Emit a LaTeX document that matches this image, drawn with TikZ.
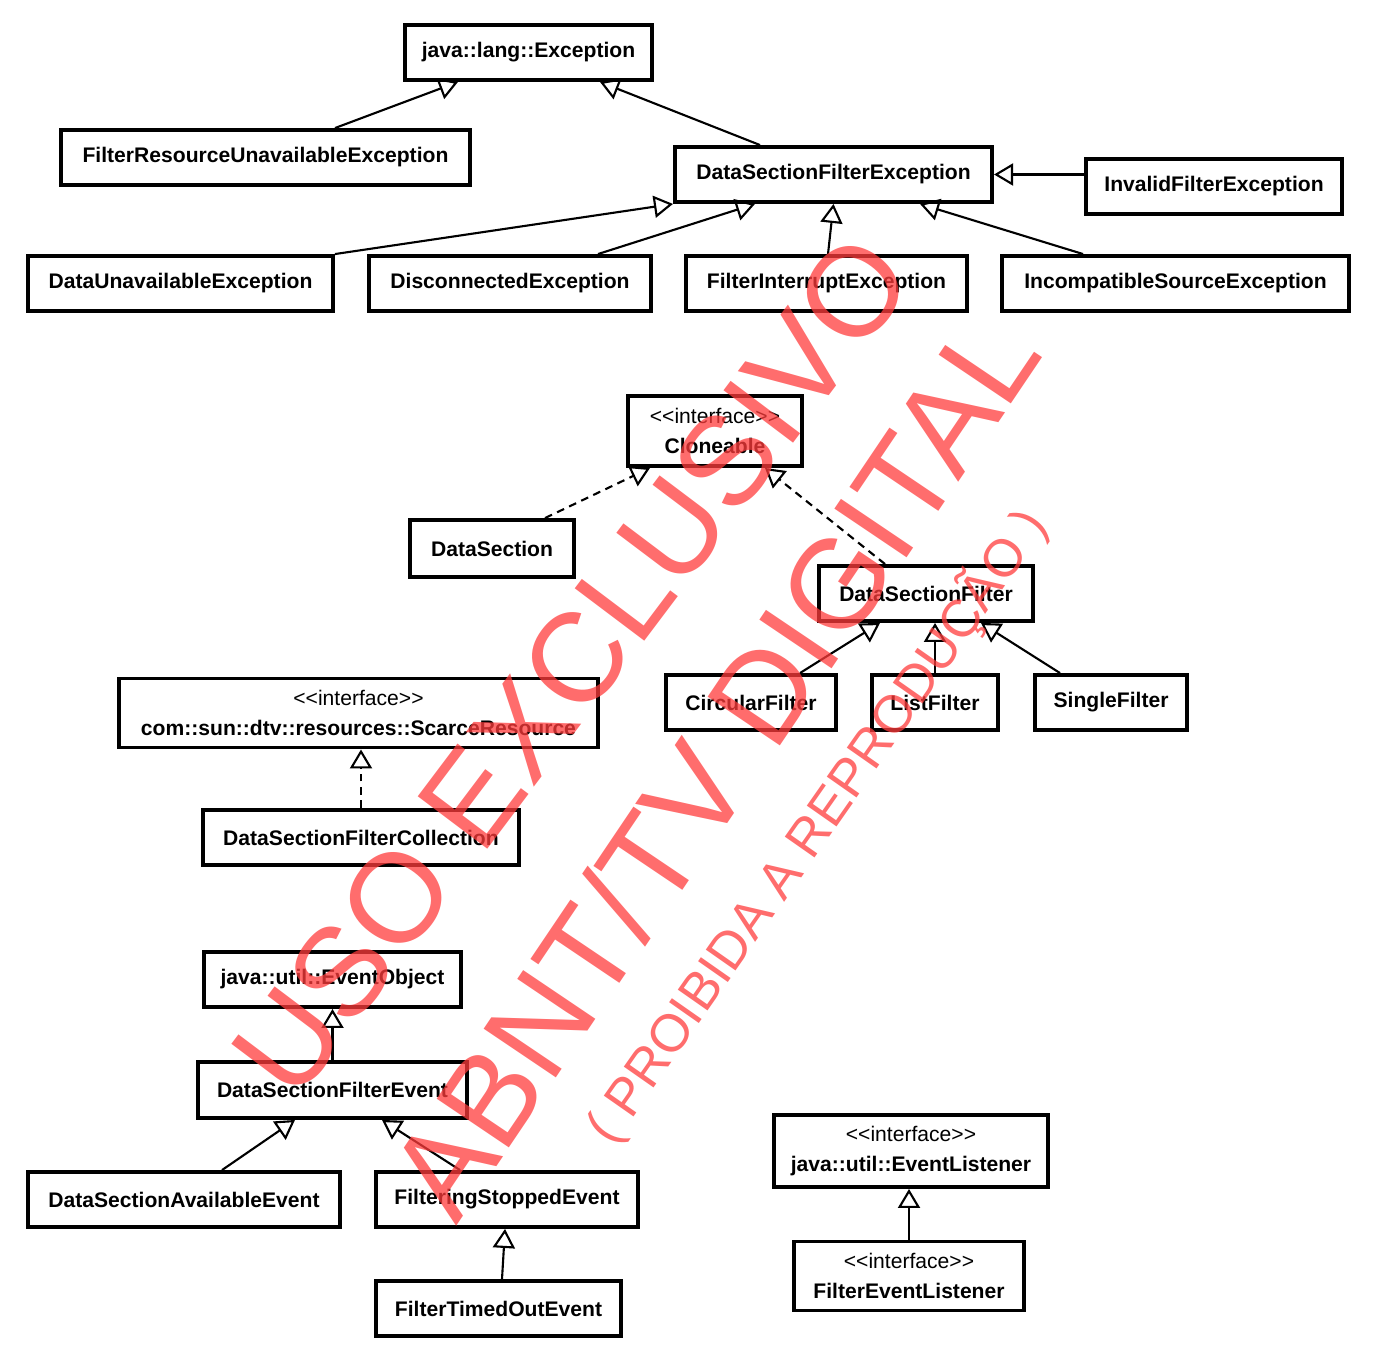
\documentclass[tikz,border=0pt]{standalone}
\usepackage{fontspec}
\setmainfont{Liberation Sans}
\usetikzlibrary{arrows.meta,calc}
\definecolor{wmred}{RGB}{255,60,60}

\begin{document}
\begin{tikzpicture}[x=0.01cm,y=-0.01cm,
  cls/.style={draw,line width=1.1pt,fill=white,inner sep=0pt,minimum height=0.55cm,
    align=center,font=\fontsize{6}{8.3}\selectfont\bfseries},
  iface/.style={cls,minimum height=0.7cm},
  gen/.style={line width=0.6pt,-{Triangle[open,length=0.19cm,width=0.22cm]}},
  impl/.style={gen,dash pattern=on 2.2pt off 1.6pt},
  wmark/.style={text=wmred,text opacity=0.75,inner sep=0pt,font=\fontsize{36}{36}\selectfont}]
\useasboundingbox (0,0) rectangle (1373,1352);

\node[cls,minimum width=2.47cm] (exc) at (528.5,52.5) {java::lang::Exception};
\node[cls,minimum width=4.09cm] (frue) at (265.5,157.5) {FilterResourceUnavailableException};
\node[cls,minimum width=3.17cm] (dsfe) at (833.5,174.5) {DataSectionFilterException};
\node[cls,minimum width=2.56cm] (ife) at (1214,186.5) {InvalidFilterException};
\node[cls,minimum width=3.05cm] (due) at (180.5,283.5) {DataUnavailableException};
\node[cls,minimum width=2.82cm] (dise) at (510,283.5) {DisconnectedException};
\node[cls,minimum width=2.81cm] (fie) at (826.5,283.5) {FilterInterruptException};
\node[cls,minimum width=3.47cm] (ise) at (1175.5,283.5) {IncompatibleSourceException};

\node[iface,minimum width=1.74cm] (clo) at (715,431)
  {{\mdseries <\kern0pt<interface>\kern0pt>}\\Cloneable};
\node[cls,minimum width=1.64cm,minimum height=0.57cm] (ds) at (492,548.5) {DataSection};
\node[cls,minimum width=2.14cm] (dsf) at (926,593.5) {DataSectionFilter};
\node[cls,minimum width=1.70cm] (cf) at (751,702.5) {CircularFilter};
\node[cls,minimum width=1.26cm] (lf) at (935,702.5) {ListFilter};
\node[cls,minimum width=1.52cm] (sf) at (1111,702.5) {SingleFilter};

\node[iface,minimum width=4.79cm,minimum height=0.69cm] (sr) at (358.5,713)
  {{\mdseries <\kern0pt<interface>\kern0pt>}\\com::sun::dtv::resources::ScarceResource};
\node[cls,minimum width=3.16cm] (dsfc) at (361,837.5) {DataSectionFilterCollection};

\node[cls,minimum width=2.57cm] (eo) at (332.5,979.5) {java::util::EventObject};
\node[cls,minimum width=2.69cm,minimum height=0.56cm] (dsfev) at (332.5,1090) {DataSectionFilterEvent};
\node[cls,minimum width=3.12cm] (dsae) at (184,1199.5) {DataSectionAvailableEvent};
\node[cls,minimum width=2.62cm] (fse) at (507,1199.5) {FilteringStoppedEvent};
\node[cls,minimum width=2.45cm] (ftoe) at (498.5,1308.5) {FilterTimedOutEvent};

\node[iface,minimum width=2.74cm,minimum height=0.72cm] (el) at (911,1151)
  {{\mdseries <\kern0pt<interface>\kern0pt>}\\java::util::EventListener};
\node[iface,minimum width=2.30cm,minimum height=0.69cm] (fel) at (909,1276)
  {{\mdseries <\kern0pt<interface>\kern0pt>}\\FilterEventListener};

\draw[gen] ($(frue.north)+(69.5,0)$) -- ($(exc.south)+(-70.5,0)$);
\draw[gen] ($(dsfe.north)+(-73.5,0)$) -- ($(exc.south)+(71.5,0)$);
\draw[gen] (dsfe.east -| ife.west) -- (dsfe.east);
\draw[gen] (due.north east) -- (dsfe.south west);
\draw[gen] ($(dise.north)+(88,0)$) -- ($(dsfe.south)+(-78.5,0)$);
\draw[gen] ($(fie.north)+(1.5,0)$) -- (dsfe.south);
\draw[gen] ($(ise.north)+(-92.5,0)$) -- ($(dsfe.south)+(86.5,0)$);

\draw[impl] ($(ds.north)+(53,0)$) -- ($(clo.south)+(-65,0)$);
\draw[impl] ($(dsf.north)+(-41,0)$) -- ($(clo.south)+(50,0)$);
\draw[gen] ($(cf.north)+(49,0)$) -- ($(dsf.south)+(-46,0)$);
\draw[gen] (lf.north) -- (lf.north |- dsf.south);
\draw[gen] ($(sf.north)+(-51,0)$) -- ($(dsf.south)+(55,0)$);

\draw[impl] (dsfc.north) -- (dsfc.north |- sr.south);

\draw[gen] (dsfev.north) -- (eo.south);
\draw[gen] ($(dsae.north)+(38,0)$) -- ($(dsfev.south)+(-37.5,0)$);
\draw[gen] ($(fse.north)+(-47,0)$) -- ($(dsfev.south)+(49.5,0)$);
\draw[gen] ($(ftoe.north)+(3.5,0)$) -- ($(fse.south)+(-2,0)$);

\draw[gen] (fel.north) -- (fel.north |- el.south);

\node[wmark,rotate=53] (uso) at (572,665) {USO EXCLUSIVO};
\node[wmark,rotate=56] (abnt) at (713,765) {ABNT/TV DIGITAL};
\node[wmark,rotate=55,font=\fontsize{15}{16}\selectfont] (proib) at (816,826)
  {( PROIBIDA A REPRODUÇÃO )};
\end{tikzpicture}
\end{document}
